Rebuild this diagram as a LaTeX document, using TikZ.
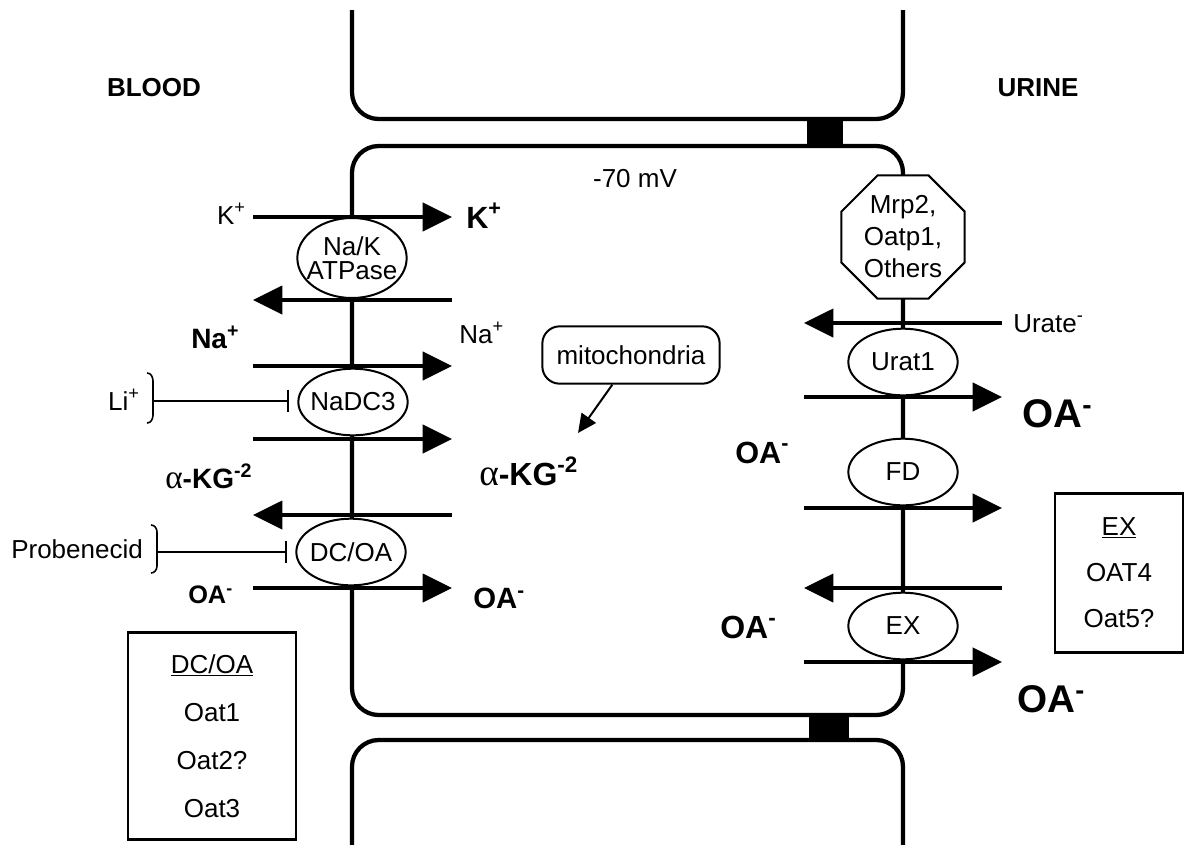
\documentclass[tikz,border=0pt]{standalone}
\usepackage{fontspec}
\setmainfont{Liberation Sans}
\newfontfamily\greekfont{Liberation Serif}
\usetikzlibrary{arrows.meta,shapes.geometric}

\begin{document}
\begin{tikzpicture}[
      x=0.75pt,y=-0.75pt,
      every node/.style={inner sep=0pt,font=\fontsize{19.5}{24}\selectfont},
      cellWall/.style={line width=3.2pt,rounded corners=20pt},
      carrierOval/.style={draw,ellipse,fill=white,line width=1.5pt,
                          inner xsep=-6pt,inner ysep=-4pt,
                          minimum width=82pt,minimum height=50pt,align=center},
      ionArrow/.style={-{Triangle[length=22pt,width=21pt]},line width=3pt},
      blockBar/.style={-{Bar[width=17pt,line width=1.4pt]},line width=1.1pt,shorten >=6pt},
      inhibBrace/.style={line width=1.2pt},
      listBox/.style={draw,line width=1.8pt,align=center},
      ionBold/.style={font=\fontsize{#1}{#1}\selectfont\bfseries}
    ]
    \useasboundingbox (0,0) rectangle (1186,844);

    % Cells: neighbour above, proximal tubule cell, neighbour below
    \draw[cellWall] (352,10) -- (352,119) -- (903,119) -- (903,10);
    \draw[cellWall] (352,146) rectangle (903,715);
    \draw[cellWall] (352,846) -- (352,740) -- (903,740) -- (903,846);
    % Tight junctions
    \fill (807,118) rectangle (843,147);
    \fill (809,714) rectangle (849,741);

    % Sides and membrane potential
    \node(blood)[ionBold=19.5,anchor=base] at (154,96) {BLOOD};
    \node(urine)[ionBold=19.5,anchor=base] at (1038,96) {URINE};
    \node(mv)[anchor=base] at (635,187) {-70 mV};

    % Basolateral transporters
    \node(nak)[carrierOval,minimum height=60pt,font=\fontsize{19.5}{18}\selectfont]
      at (352,258) {Na/K\\ATPase};
    \node(nadc)[carrierOval] at (353,402) {NaDC3};
    \node(dcoa)[carrierOval] at (351,552) {DC/OA};

    % Apical transporters
    \node(mrp)[draw,regular polygon,regular polygon sides=8,minimum size=100pt,
               fill=white,line width=1.5pt,align=center] at (903,237) {Mrp2,\\Oatp1,\\Others};
    \node(urat)[carrierOval] at (903,362) {Urat1};
    \node(fd)[carrierOval] at (903,472) {FD};
    \node(ex)[carrierOval] at (903,626) {EX};

    % Ions and substrates
    \node(kin)[anchor=base east] at (246,224) {K\textsuperscript{+}};
    \node(kout)[ionBold=23,anchor=base west] at (466,228) {K\textsuperscript{+}};
    \node(naout)[ionBold=21,anchor=base west] at (191,348) {Na\textsuperscript{+}};
    \node(nain)[anchor=base west] at (459,343) {Na\textsuperscript{+}};
    \node(kgout)[ionBold=21,anchor=base west] at (165,488)
      {{\greekfont\mdseries\fontsize{25}{25}\selectfont α}-KG\textsuperscript{-2}};
    \node(kgin)[ionBold=24,anchor=base west] at (479,485)
      {{\greekfont\mdseries\fontsize{28}{28}\selectfont α}-KG\textsuperscript{-2}};
    \node(oaout)[ionBold=19,anchor=base west] at (188,603) {OA\textsuperscript{-}};
    \node(oain)[ionBold=22,anchor=base west] at (473,608) {OA\textsuperscript{-}};
    \node(urate)[anchor=base west] at (1013,332) {Urate\textsuperscript{-}};
    \node(oaur)[ionBold=30,anchor=base west] at (1022,427) {OA\textsuperscript{-}};
    \node(oafd)[ionBold=23,anchor=base west] at (735,463) {OA\textsuperscript{-}};
    \node(oaex)[ionBold=24,anchor=base west] at (720,638) {OA\textsuperscript{-}};
    \node(oaurine)[ionBold=29,anchor=base west] at (1017,712) {OA\textsuperscript{-}};

    % Basolateral fluxes
    \coordinate (k1) at (253,217);  \coordinate (k2) at (452,217);
    \coordinate (na1) at (452,300); \coordinate (na2) at (253,300);
    \coordinate (na3) at (253,366); \coordinate (na4) at (452,366);
    \coordinate (kg1) at (253,439); \coordinate (kg2) at (452,439);
    \coordinate (kg3) at (452,515); \coordinate (kg4) at (253,515);
    \coordinate (oa1) at (253,588); \coordinate (oa2) at (452,588);
    \draw[ionArrow] (k1) -- (k2);
    \draw[ionArrow] (na1) -- (na2);
    \draw[ionArrow] (na3) -- (na4);
    \draw[ionArrow] (kg1) -- (kg2);
    \draw[ionArrow] (kg3) -- (kg4);
    \draw[ionArrow] (oa1) -- (oa2);

    % Apical fluxes
    \coordinate (ur1) at (1002,323); \coordinate (ur2) at (804,323);
    \coordinate (oa3) at (804,397);  \coordinate (oa4) at (1002,397);
    \coordinate (oa5) at (804,508);  \coordinate (oa6) at (1002,508);
    \coordinate (oa7) at (1002,588); \coordinate (oa8) at (804,588);
    \coordinate (oa9) at (804,662);  \coordinate (oa10) at (1002,662);
    \draw[ionArrow] (ur1) -- (ur2);
    \draw[ionArrow] (oa3) -- (oa4);
    \draw[ionArrow] (oa5) -- (oa6);
    \draw[ionArrow] (oa7) -- (oa8);
    \draw[ionArrow] (oa9) -- (oa10);

    % Mitochondrial source of alpha-KG
    \node(mito)[draw,rounded corners=13pt,line width=1.5pt,
                minimum width=133pt,minimum height=43pt] at (631,355) {mitochondria};
    \coordinate (kgTip) at (578,433);
    \draw[-{Triangle[length=14pt,width=13pt]},line width=1.5pt]
      ([xshift=-14pt]mito.south) -- (kgTip);

    % Inhibitors
    \node(li)[anchor=base east] at (140,410) {Li\textsuperscript{+}};
    \coordinate (liBr) at (153,401);
    \draw[inhibBrace] (147,373) to[out=0,in=90] (153,381) -- (153,415) to[out=-90,in=0] (147,423);
    \draw[blockBar] (liBr) -- (liBr -| nadc.west);

    \node(prob)[anchor=base west] at (11,558) {Probenecid};
    \coordinate (probBr) at (157,552);
    \draw[inhibBrace] (151,525) to[out=0,in=90] (157,532) -- (157,566) to[out=-90,in=0] (151,573);
    \draw[blockBar] (probBr) -- (probBr -| dcoa.west);

    % Transporter families
    \node(dcoaList)[listBox,minimum width=126pt,minimum height=155pt,
                    font=\fontsize{19.5}{36}\selectfont] at (212,736)
      {\underline{DC/OA}\\Oat1\\Oat2?\\Oat3};
    \node(exList)[listBox,minimum width=96pt,minimum height=119pt,
                  font=\fontsize{19.5}{34.5}\selectfont] at (1119,573)
      {\underline{EX}\\OAT4\\Oat5?};
  \end{tikzpicture}
\end{document}
